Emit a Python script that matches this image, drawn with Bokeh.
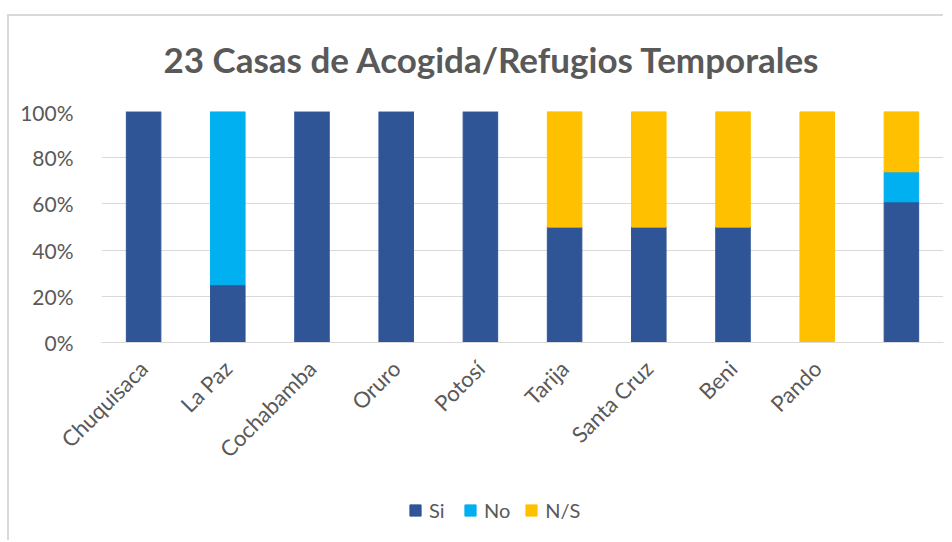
from bokeh.plotting import figure
from bokeh.models import NumeralTickFormatter, Legend, LegendItem, FixedTicker, Label
from bokeh.layouts import column
from bokeh.embed import file_html
from bokeh.resources import INLINE
import math

categories = ["Chuquisaca", "La Paz", "Cochabamba", "Oruro", "Potosí", "Tarija", "Santa Cruz", "Beni", "Pando", " "]
si = [1.0, 0.25, 1.0, 1.0, 1.0, 0.5, 0.5, 0.5, 0.0, 0.609]
no = [0.0, 0.75, 0.0, 0.0, 0.0, 0.0, 0.0, 0.0, 0.0, 0.130]
ns = [0.0, 0.0, 0.0, 0.0, 0.0, 0.5, 0.5, 0.5, 1.0, 0.261]
series = ["Si", "No", "N/S"]
colors = ["#2F5597", "#00B0F0", "#FFC000"]
title_text = "23 Casas de Acogida/Refugios Temporales"

data = {"cat": categories, "Si": si, "No": no, "N/S": ns}

FONT = "Lato"
GRAY = "#595959"
W = 936
BORDER = "2px solid #d9d9d9"

# ---- title strip ----
tf = figure(width=W, height=85, x_range=(0, W), y_range=(0, 85), x_axis_type=None, y_axis_type=None,
            output_backend="svg", toolbar_location=None, min_border=0, title=None)
tf.margin = (14, 0, 0, 7)
tf.styles = {"border-left": BORDER, "border-top": BORDER}
tf.outline_line_color = None
tf.grid.grid_line_color = None
tf.add_layout(Label(x=69, y=43, text=title_text, text_font=FONT, text_font_size="35px",
                    text_font_style="bold", text_color=GRAY, text_baseline="middle", text_align="left"))

# ---- main chart ----
p = figure(x_range=categories, y_range=(0, 1.0), frame_width=840, frame_height=231,
           output_backend="svg", toolbar_location=None, title=None,
           min_border_left=92, min_border_right=4, min_border_top=12, min_border_bottom=146)
p.margin = (0, 0, 0, 7)
p.styles = {"border-left": BORDER}

rs = p.vbar_stack(series, x="cat", width=0.41, color=colors, source=data)

p.outline_line_color = None
p.xgrid.grid_line_color = None
p.ygrid.grid_line_color = "#d9d9d9"
p.ygrid.grid_line_width = 1
p.yaxis.ticker = FixedTicker(ticks=[0, 0.2, 0.4, 0.6, 0.8, 1.0])
p.yaxis.formatter = NumeralTickFormatter(format="0%")
p.yaxis.axis_line_color = None
p.yaxis.major_tick_line_color = None
p.yaxis.minor_tick_line_color = None
p.yaxis.major_label_standoff = 22
for ax in (p.xaxis, p.yaxis):
    ax.major_label_text_font = FONT
    ax.major_label_text_font_size = "21px"
    ax.major_label_text_color = GRAY
p.xaxis.major_label_text_font_size = "22px"
p.xaxis.axis_line_color = "#d9d9d9"
p.xaxis.axis_line_width = 1
p.xaxis.major_tick_line_color = None
p.xaxis.major_label_orientation = math.pi / 4
p.xaxis.major_label_standoff = 16

# ---- legend strip ----
lf = figure(width=W, height=52, x_range=(0, W), y_range=(0, 52), x_axis_type=None, y_axis_type=None,
            output_backend="svg", toolbar_location=None, min_border=0, title=None)
lf.margin = (0, 0, 0, 7)
lf.styles = {"border-left": BORDER}
lf.outline_line_color = None
lf.grid.grid_line_color = None
items = []
for s, c in zip(series, colors):
    r = lf.vbar(x=[-1000], top=[-1000], bottom=[-1001], width=0.4, color=c)
    items.append(LegendItem(label=s, renderers=[r]))
legend = Legend(items=items, orientation="horizontal", location=(307, 18),
                border_line_color=None, background_fill_alpha=0,
                label_text_font=FONT, label_text_font_size="20px", label_text_color=GRAY,
                glyph_width=14, glyph_height=14, spacing=14, label_standoff=7,
                margin=0, padding=2)
lf.add_layout(legend)

layout = column(tf, p, lf, spacing=0)
open("out.html", "w").write(file_html(layout, INLINE))
